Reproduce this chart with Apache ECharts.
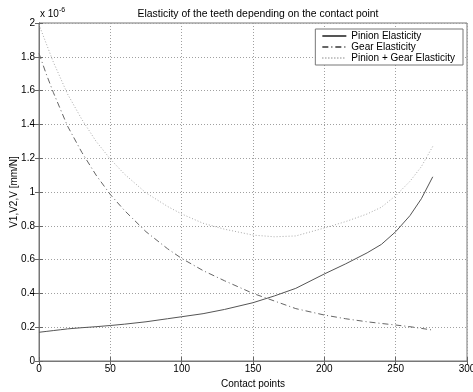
<!DOCTYPE html>
<html>
<head>
<meta charset="utf-8">
<script src="https://cdn.jsdelivr.net/npm/echarts@6/dist/echarts.min.js"></script>
<style>
html,body{margin:0;padding:0;background:#fff;}
#c{width:473px;height:392px;}
</style>
</head>
<body>
<div id="c"></div>
<script>
const contactPoints = [0,5,10,15,20,30,40,50,60,75,90,100,115,130,150,165,180,200,215,230,240,250,260,268,276];
const pinion = [0.17,0.175,0.18,0.185,0.19,0.197,0.203,0.21,0.218,0.232,0.25,0.262,0.28,0.305,0.345,0.385,0.43,0.515,0.575,0.64,0.69,0.765,0.86,0.96,1.09];
const gear = [1.82,1.70,1.59,1.49,1.39,1.235,1.10,0.985,0.89,0.765,0.665,0.607,0.535,0.475,0.40,0.355,0.31,0.272,0.25,0.232,0.222,0.213,0.203,0.193,0.183];
const sum = [1.99,1.88,1.77,1.675,1.58,1.43,1.30,1.195,1.105,0.995,0.915,0.87,0.815,0.78,0.745,0.735,0.74,0.787,0.825,0.87,0.91,0.978,1.063,1.15,1.27];
const seriesNames = ['Pinion Elasticity','Gear Elasticity','Pinion + Gear Elasticity'];
const xTicks = {min:0, max:300, interval:50};
const yTicks = {min:0, max:2, interval:0.2};

const zip = arr => contactPoints.map((x,i)=>[x,arr[i]]);
const font = 'Liberation Sans, Arial, sans-serif';
const fs = 10;
const chart = echarts.init(document.getElementById('c'), null, {renderer:'canvas'});
const gridLine = {show:true, lineStyle:{color:'#a0a0a0', type:[1,2], width:1}};
const tickIn = {show:true, inside:true, length:4, lineStyle:{color:'#666'}};
chart.setOption({
  animation:false,
  backgroundColor:'#fff',
  title:{text:'Elasticity of the teeth depending on the contact point', left:253, textAlign:'center', top:4,
    textStyle:{fontFamily:font, fontSize:10.4, fontWeight:'normal', color:'#000'}},
  graphic:[{type:'text', left:40, top:7, style:{text:'{a|x 10}{b|-6}', rich:{a:{fontFamily:font,fontSize:fs,fill:'#000'}, b:{fontFamily:font,fontSize:7,fill:'#000', verticalAlign:'top', padding:[0,0,8,0]}}}}],
  grid:{left:39, right:6, top:23, bottom:31, show:true, borderColor:'#777', borderWidth:1, outerBoundsMode:'none', containLabel:false},
  legend:{data:seriesNames, orient:'vertical', right:10, top:29, itemWidth:24, itemHeight:10, itemGap:1,
    backgroundColor:'#fff', borderColor:'#777', borderWidth:1, padding:[2,8,2,6],
    itemStyle:{opacity:0, borderWidth:0},
    textStyle:{fontFamily:font, fontSize:fs, color:'#000'}},
  xAxis:[{type:'value', min:xTicks.min, max:xTicks.max, interval:xTicks.interval, position:'bottom',
    name:'Contact points', nameLocation:'middle', nameGap:15,
    nameTextStyle:{fontFamily:font, fontSize:fs, color:'#000'},
    axisLine:{show:true, lineStyle:{color:'#777'}}, axisTick:tickIn, splitLine:gridLine,
    axisLabel:{fontFamily:font, fontSize:fs, color:'#000', margin:3}},
    {type:'value', min:xTicks.min, max:xTicks.max, interval:xTicks.interval, position:'top',
    axisLine:{show:true, lineStyle:{color:'#777'}}, axisTick:tickIn, splitLine:{show:false}, axisLabel:{show:false}}],
  yAxis:[{type:'value', min:yTicks.min, max:yTicks.max, interval:yTicks.interval, position:'left',
    name:'V1,V2,V [mm/N]', nameLocation:'middle', nameGap:20, nameRotate:90, nameMoveOverlap:false,
    nameTextStyle:{fontFamily:font, fontSize:fs, color:'#000'},
    axisLine:{show:true, lineStyle:{color:'#777'}}, axisTick:tickIn, splitLine:gridLine,
    axisLabel:{fontFamily:font, fontSize:fs, color:'#000', margin:4}},
    {type:'value', min:yTicks.min, max:yTicks.max, interval:yTicks.interval, position:'right',
    axisLine:{show:true, lineStyle:{color:'#777'}}, axisTick:tickIn, splitLine:{show:false}, axisLabel:{show:false}}],
  series:[
    {name:seriesNames[0], type:'line', data:zip(pinion), symbol:'none', smooth:false,
      lineStyle:{color:'#555', width:1, type:'solid'}, itemStyle:{color:'#555'}},
    {name:seriesNames[1], type:'line', data:zip(gear), symbol:'none',
      lineStyle:{color:'#666', width:1, type:[6,3,1,3]}, itemStyle:{color:'#666'}},
    {name:seriesNames[2], type:'line', data:zip(sum), symbol:'none',
      lineStyle:{color:'#aaa', width:1, type:[1,2]}, itemStyle:{color:'#aaa'}}
  ]
});
</script>
</body>
</html>
